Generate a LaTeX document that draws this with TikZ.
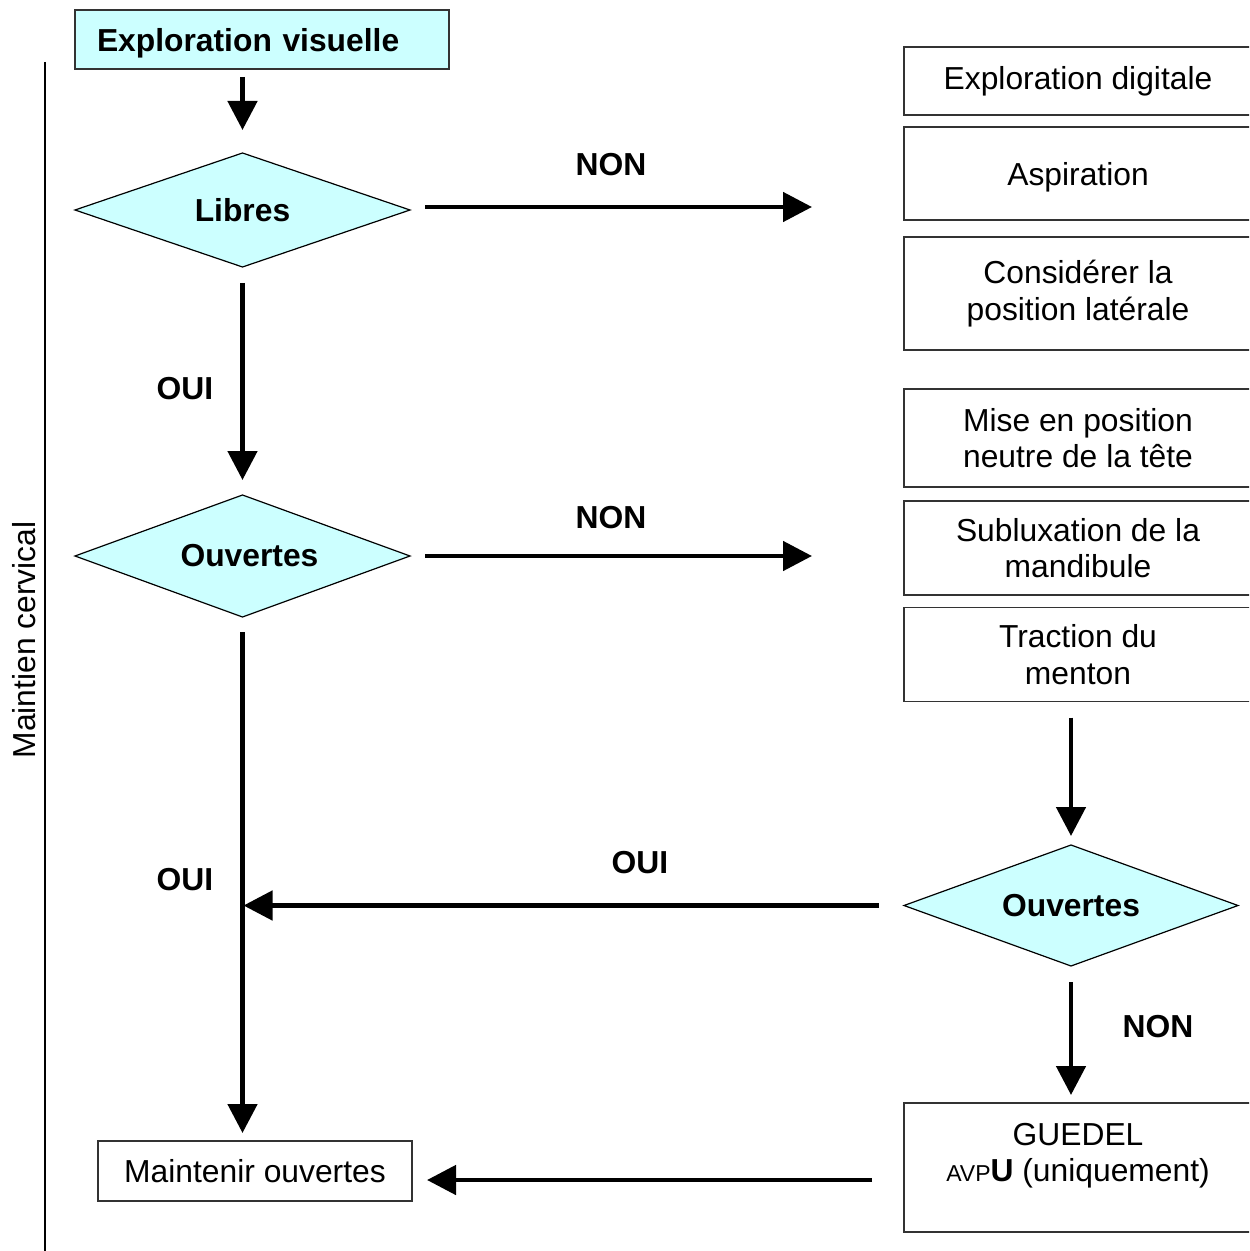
\documentclass[tikz,border=0pt]{standalone}
\usepackage{fontspec}
\setmainfont{Liberation Sans}
\usetikzlibrary{shapes.geometric,arrows.meta}
\definecolor{cyanfill}{HTML}{CCFFFF}
\definecolor{boxline}{HTML}{333333}
\begin{document}
\begin{tikzpicture}[x=0.5pt,y=-0.5pt,
  every node/.style={font=\fontsize{15.9}{18.3}\selectfont, inner sep=0pt, outer sep=0pt},
  cyanbox/.style={draw=boxline, fill=cyanfill, line width=0.7pt},
  plainbox/.style={draw=boxline, line width=0.6pt, align=center, minimum width=174pt},
  dec/.style={diamond, draw=black, fill=cyanfill, line width=0.6pt, font=\bfseries\fontsize{15.9}{18.3}\selectfont},
  arr/.style={line width=2.4pt, -{Triangle[length=14.5pt,width=14.5pt]}},
  lbl/.style={font=\bfseries\fontsize{15.9}{18.3}\selectfont}]
\useasboundingbox (0,0) rectangle (1249,1251);
\clip (0,0) rectangle (1249,1251);

% left column
\node[cyanbox, minimum width=187pt, minimum height=29.5pt, text width=165pt, text depth=0pt, inner xsep=11pt, align=left, font=\bfseries\fontsize{15.9}{18.3}\selectfont] (ev) at (262,39.5) {Exploration visuelle};
\node[dec, minimum width=167.5pt, minimum height=57pt, shape aspect=2.94] (libres) at (242.5,210) {Libres};
\node[dec, minimum width=167.5pt, minimum height=61pt, shape aspect=2.75] (ouv1) at (242.5,556) {\hspace*{7pt}Ouvertes};
\node[draw=boxline, line width=0.6pt, minimum width=157pt, minimum height=30pt] (mo) at (255,1171) {Maintenir ouvertes};

% cervical
\node[rotate=90] (mc) at (24,640) {Maintien cervical};
\coordinate (mctop) at (45,62);
\coordinate (mcbot) at (45,1252);
\draw[line width=1pt] (mctop) -- (mcbot);

% right column
\node[plainbox, minimum height=34pt] (ed) at (1078,81) {Exploration digitale};
\node[plainbox, minimum height=46.5pt, text depth=0pt] (asp) at (1078,173.5) {Aspiration};
\node[plainbox, minimum height=56.5pt] (cons) at (1078,293.5) {Considérer la\\position latérale};
\node[plainbox, minimum height=49pt] (mise) at (1078,438) {Mise en position\\neutre de la tête};
\node[plainbox, minimum height=47pt] (sub) at (1078,548) {Subluxation de la\\mandibule};
\node[plainbox, minimum height=47pt] (trac) at (1078,654.5) {Traction du\\menton};
\node[dec, minimum width=167pt, minimum height=60.5pt, shape aspect=2.76] (ouv2) at (1071,905.5) {Ouvertes};
\node[plainbox, minimum height=64.5pt] (gu) at (1078,1167.5) {};
\node[align=center] (gutxt) at (1078,1155.5) {GUEDEL\\{\fontsize{11.5}{13}\selectfont AVP}\textbf{U} (uniquement)};

% connectors
\coordinate (r1) at (812,207);
\coordinate (r2) at (812,556);
\coordinate (gy) at (0,1180);
\draw[arr, shorten <=4pt, shorten >=11.5pt] (libres.north |- ev.south) -- (libres.north);
\draw[arr, shorten <=7.5pt] (libres.east |- r1) -- (r1);
\draw[arr, shorten <=8pt, shorten >=7.5pt] (libres.south) -- (ouv1.north);
\draw[arr, shorten <=7.5pt] (ouv1.east) -- (r2);
\draw[arr, shorten <=7.5pt, shorten >=4pt] (ouv1.south) -- (ouv1.south |- mo.north);
\draw[arr, shorten <=8pt, shorten >=4.5pt] (ouv2.north |- trac.south) -- (ouv2.north);
\draw[arr, shorten <=12.5pt, shorten >=0.5pt] (ouv2.west) -- (ouv1.south |- ouv2.west);
\draw[arr, shorten <=8pt, shorten >=4pt] (ouv2.south) -- (ouv2.south |- gu.north);
\draw[arr, shorten <=16pt, shorten >=7.5pt] (gu.west |- gy) -- (mo.east |- gy);

% labels
\node[lbl] (l1) at (611,165) {NON};
\node[lbl] (l2) at (185,389) {OUI};
\node[lbl] (l3) at (611,518) {NON};
\node[lbl] (l4) at (185,880) {OUI};
\node[lbl] (l5) at (640,863) {OUI};
\node[lbl] (l6) at (1158,1027) {NON};
\end{tikzpicture}
\end{document}
